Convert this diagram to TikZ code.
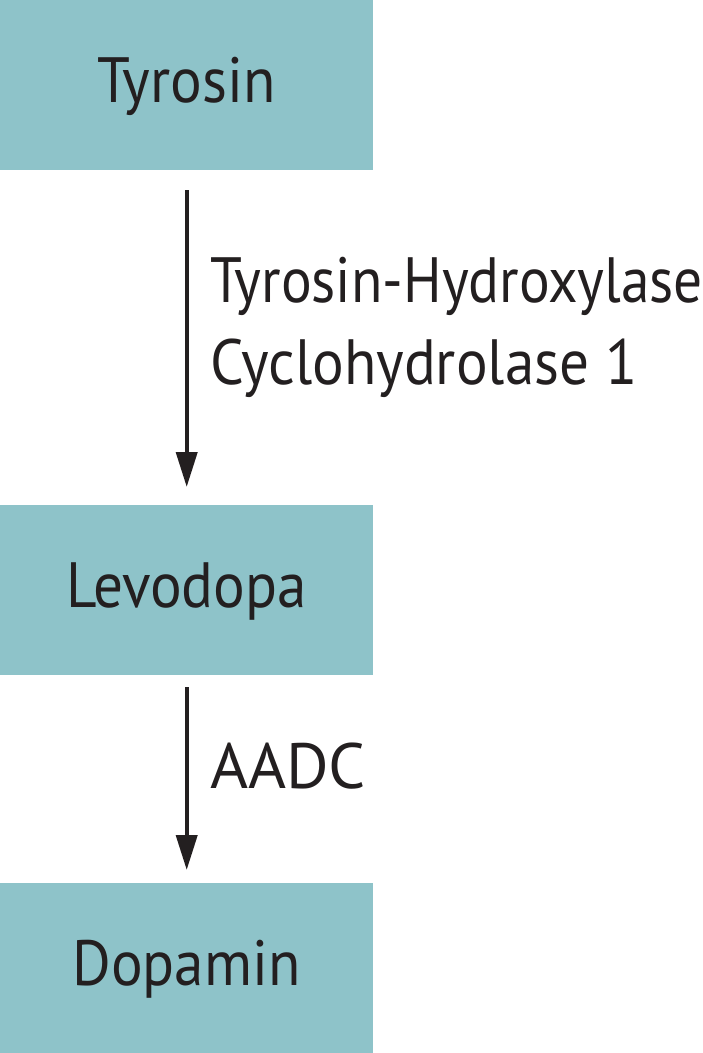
\documentclass[tikz,border=0pt]{standalone}
\usepackage{fontspec}
\setmainfont[FakeStretch=0.925]{PT Sans}
\usetikzlibrary{arrows.meta}
\definecolor{boxfill}{HTML}{8EC3C9}
\definecolor{ink}{HTML}{231F20}
\begin{document}
\begin{tikzpicture}[x=1pt,y=-1pt,
  box/.style={fill=boxfill,draw=none,minimum width=373pt,minimum height=170pt,inner sep=0pt,anchor=north west},
  lbl/.style={font=\fontsize{64}{78}\selectfont,text=ink,inner sep=0pt},
  arr/.style={draw=ink,line width=4pt,-{Triangle[width=21pt,length=35pt]}}]
\useasboundingbox (0,0) rectangle (703,1053);
\node[box] (ty) at (0,0) {};
\node[box] (lev) at (0,505) {};
\node[box] (dop) at (0,883) {};
\node[lbl,anchor=base] (tyt) at (186.5,102) {Tyrosin};
\node[lbl,anchor=base] (levt) at (186.5,607) {Levodopa};
\node[lbl,anchor=base] (dopt) at (186.5,985) {Dopamin};
\node[lbl,anchor=base west] (e1a) at (210,302) {\scalebox{0.97}[1]{Tyrosin-Hydroxylase}};
\node[lbl,anchor=base west] (e1b) at (210,384) {Cyclohydrolase 1};
\node[lbl,anchor=base west] (e2) at (210,788) {\scalebox{1.1}[1]{AADC}};
\draw[arr,shorten <=20pt,shorten >=18pt] (ty.south) -- (lev.north);
\draw[arr,shorten <=12pt,shorten >=13pt] (lev.south) -- (dop.north);
\end{tikzpicture}
\end{document}
